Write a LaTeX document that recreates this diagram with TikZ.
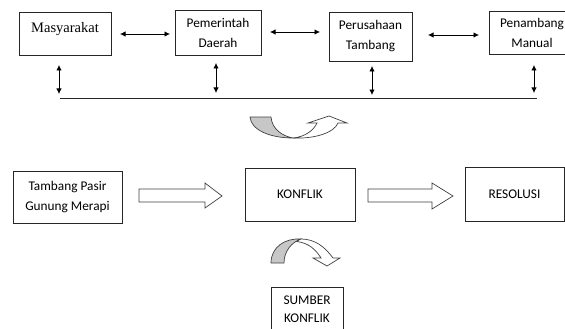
\documentclass[tikz,border=0pt]{standalone}
\usepackage{fontspec}
\setmainfont{Carlito}
\newfontfamily\tnr{Liberation Serif}
\usetikzlibrary{arrows.meta}
\begin{document}
\begin{tikzpicture}[x=1pt,y=-1pt,
  box/.style={draw=black!85, line width=0.8pt, inner sep=0pt, align=center,
    font=\fontsize{13.3}{20}\selectfont},
  dbl/.style={{Latex[length=5.5pt,width=5.5pt]}-{Latex[length=5.5pt,width=5.5pt]}, line width=0.8pt},
  blockarrow/.style={draw=black!75, line width=0.7pt, fill=white},
  curvegray/.style={draw=black!75, line width=0.7pt, fill=black!22},
  curvewhite/.style={draw=black!75, line width=0.7pt, fill=white},
]
\useasboundingbox (0,0) rectangle (565,329);
\clip (0,0) rectangle (565,329);

% top row
\node[box, minimum width=92pt, minimum height=43pt, font=\tnr\fontsize{14.5}{20}\selectfont] (mas) at (65,33.5) {\raisebox{12pt}{Masyarakat}};
\node[box, minimum width=86pt, minimum height=45pt] (pem) at (218,32.5) {Pemerintah\\Daerah};
\node[box, minimum width=83pt, minimum height=49pt] (per) at (370.5,36.5) {Perusahaan\\Tambang};
\node[box, minimum width=86pt, minimum height=43pt] (pen) at (532,32.5) {Penambang\\Manual};

\coordinate (a1) at (120,34); \coordinate (b1) at (170,34);
\coordinate (a2) at (270,32); \coordinate (b2) at (320,32);
\coordinate (a3) at (428,35); \coordinate (b3) at (479,35);
\draw[dbl] (a1) -- (b1);
\draw[dbl] (a2) -- (b2);
\draw[dbl] (a3) -- (b3);

\coordinate (v1t) at (59,65);  \coordinate (v1b) at (59,94);
\coordinate (v2t) at (216,63); \coordinate (v2b) at (216,93);
\coordinate (v3t) at (372,66); \coordinate (v3b) at (372,95);
\coordinate (v4t) at (534,65); \coordinate (v4b) at (534,93);
\draw[dbl] (v1t) -- (v1b);
\draw[dbl] (v2t) -- (v2b);
\draw[dbl] (v3t) -- (v3b);
\draw[dbl] (v4t) -- (v4b);

\coordinate (L1) at (60,98); \coordinate (L2) at (537,98);
\draw[line width=0.8pt, black!85] (L1) -- (L2);

% curved arrow 1 (up-right)
\path[curvegray] (250,117) -- (271,117) .. controls (272,129) and (282,136) .. (293,138)
  .. controls (270,138) and (251,130) .. (250,117) -- cycle;
\path[curvewhite] (293,138) .. controls (305,137) and (314,130) .. (317,123) -- (308,123)
  -- (329,116) -- (347,123) -- (338,123) .. controls (334,133) and (314,139) .. (293,138) -- cycle;

% bottom row
\node[box, minimum width=109pt, minimum height=52pt] (tam) at (67.5,197) {Tambang Pasir\\Gunung Merapi};
\node[box, minimum width=110pt, minimum height=53pt] (kon) at (300,194.5) {KONFLIK};
\node[box, minimum width=99pt, minimum height=54pt] (res) at (514.5,194) {RESOLUSI};
\node[box, minimum width=72pt, minimum height=44pt, font=\fontsize{13.3}{18}\selectfont] (sum) at (307,309) {SUMBER\\KONFLIK};

% block arrows
\path[blockarrow] (139,189) -- (205,189) -- (205,183) -- (222,196) -- (205,208) -- (205,202) -- (139,202) -- cycle;
\path[blockarrow] (368,189) -- (432,189) -- (432,183) -- (453,196) -- (432,209) -- (432,202) -- (368,202) -- cycle;

% curved arrow 2 (down)
\path[curvegray] (271,263) .. controls (271,247) and (285,238) .. (301,239)
  .. controls (292,242) and (284,251) .. (284,263) -- cycle;
\path[curvewhite] (301,239) .. controls (315,239) and (325,247) .. (333,258) -- (340,258)
  -- (327,266) -- (313,258) -- (321,258) .. controls (316,250) and (309,243) .. (297,241.5)
  .. controls (298,240.5) and (299.5,239.5) .. (301,239) -- cycle;
\end{tikzpicture}
\end{document}
